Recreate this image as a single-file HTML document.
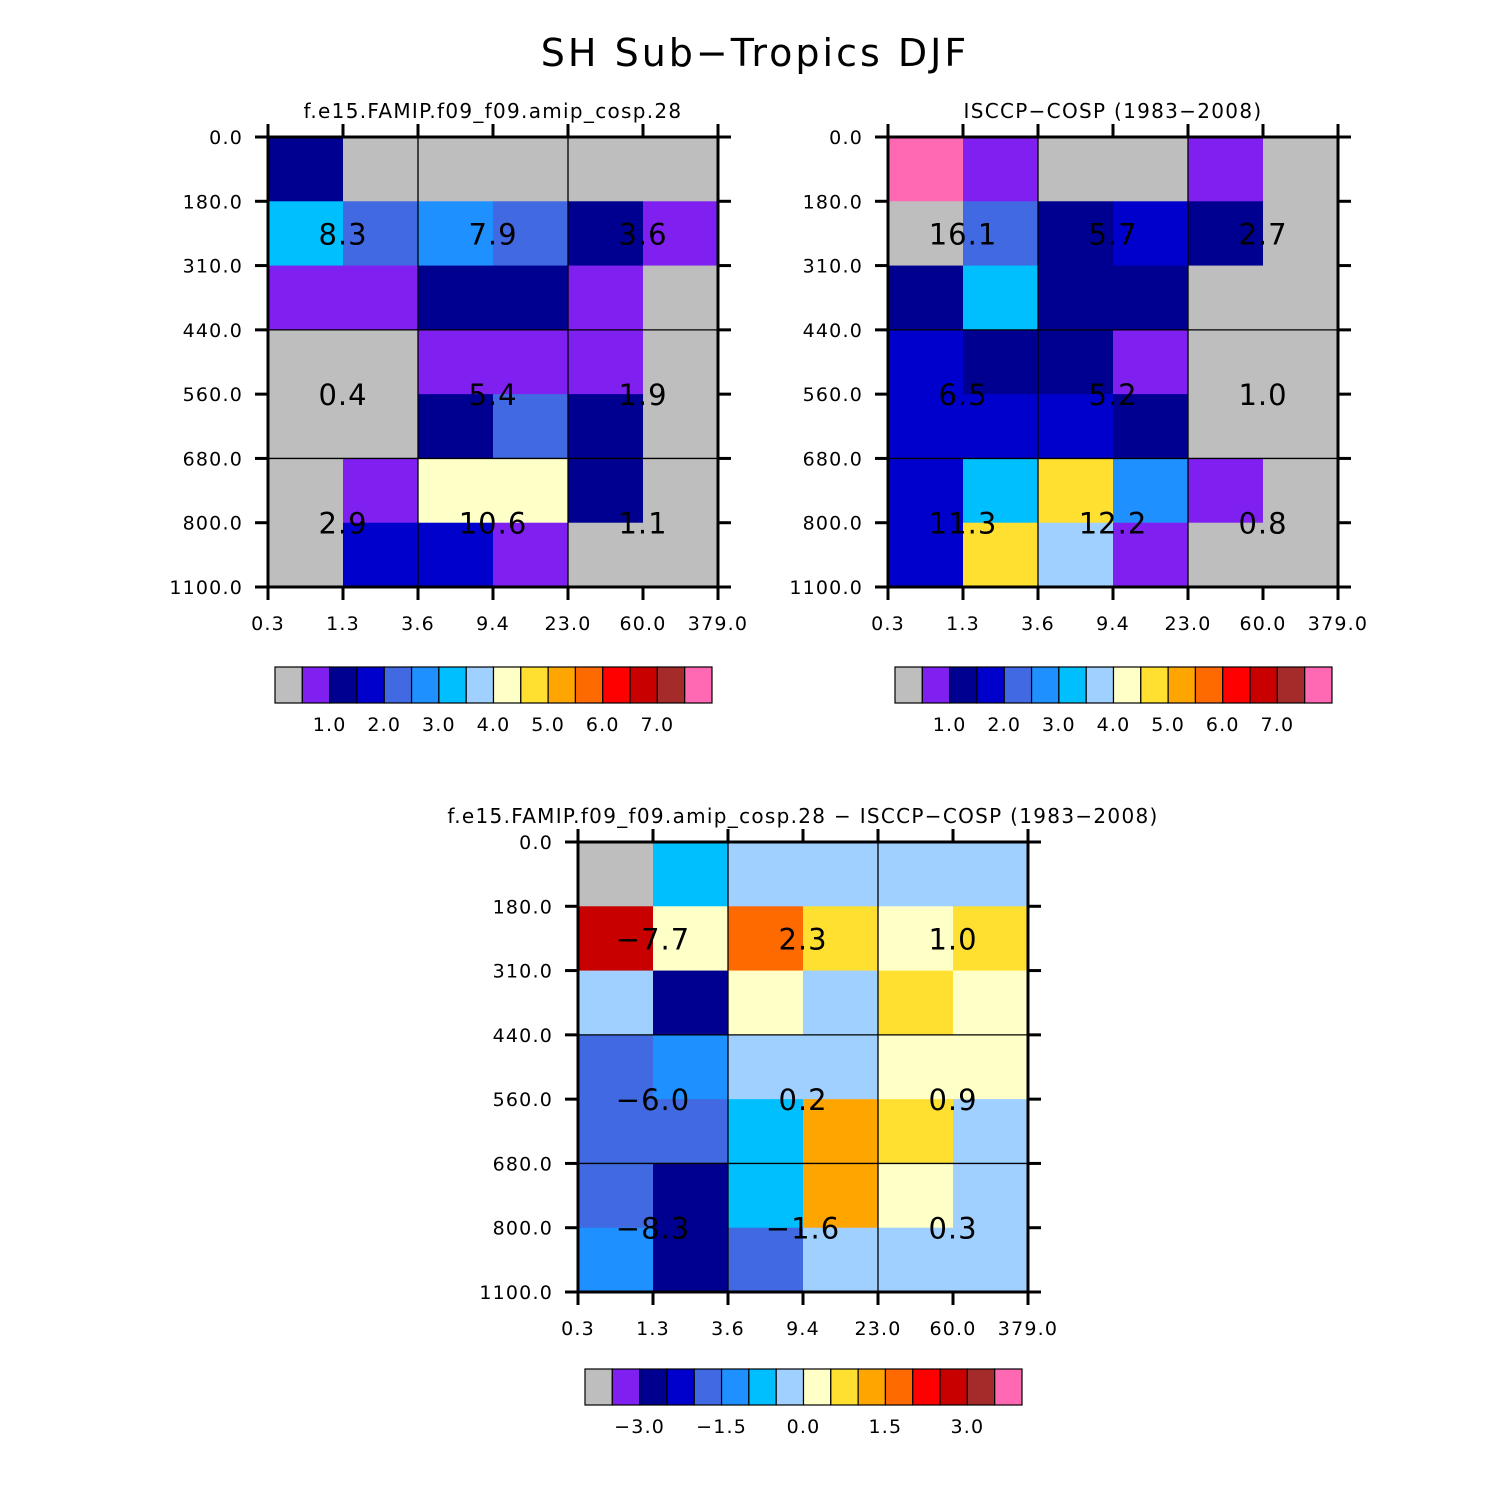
<!DOCTYPE html>
<html><head><meta charset="utf-8"><style>
body{margin:0;background:#fff}
svg{display:block;font-family:"DejaVu Sans","Liberation Sans",sans-serif}
</style></head><body>
<svg id="s" width="1510" height="1510" viewBox="0 0 1510 1510">
<text x="755" y="66" font-size="38" letter-spacing="3" text-anchor="middle">SH Sub−Tropics DJF</text>
</svg>
<script>
const xTicks=["0.3","1.3","3.6","9.4","23.0","60.0","379.0"];
const yTicks=["0.0","180.0","310.0","440.0","560.0","680.0","800.0","1100.0"];
const colors=["#BEBEBE","#8020F0","#000090","#0000CD","#4169E1","#1E90FF","#00BFFF","#A0D0FF","#FFFFC8","#FFE030","#FFA500","#FF6A00","#FF0000","#C80000","#A52A2A","#FF69B4"];
const modelVals=[
[1.2,0.2,0.2,0.2,0.2,0.2],
[3.2,2.2,2.7,2.2,1.2,0.7],
[0.7,0.7,1.2,1.2,0.7,0.2],
[0.2,0.2,0.7,0.7,0.7,0.2],
[0.2,0.2,1.2,2.2,1.2,0.2],
[0.2,0.7,4.2,4.2,1.2,0.2],
[0.2,1.7,1.7,0.7,0.2,0.2]];
const obsVals=[
[7.8,0.7,0.2,0.2,0.7,0.2],
[0.2,2.2,1.2,1.7,1.2,0.2],
[1.2,3.2,1.2,1.2,0.2,0.2],
[1.7,1.2,1.2,0.7,0.2,0.2],
[1.7,1.7,1.7,1.2,0.2,0.2],
[1.7,3.2,4.7,2.7,0.7,0.2],
[1.7,4.7,3.7,0.7,0.2,0.2]];
const diffVals=[
[-3.8,-0.7,-0.2,-0.2,-0.2,-0.2],
[2.7,0.2,1.7,0.7,0.2,0.7],
[-0.2,-2.7,0.2,-0.2,0.7,0.2],
[-1.7,-1.2,-0.2,-0.2,0.2,0.2],
[-1.7,-1.7,-0.7,1.2,0.7,-0.2],
[-1.7,-2.7,-0.7,1.2,0.2,-0.2],
[-1.2,-2.7,-1.7,-0.2,-0.2,-0.2]];
const modelLabels=["8.3","7.9","3.6","0.4","5.4","1.9","2.9","10.6","1.1"];
const obsLabels=["16.1","5.7","2.7","6.5","5.2","1.0","11.3","12.2","0.8"];
const diffLabels=["−7.7","2.3","1.0","−6.0","0.2","0.9","−8.3","−1.6","0.3"];
const absCbLabels=["1.0","2.0","3.0","4.0","5.0","6.0","7.0"];
const diffCbLabels=["−3.0","−1.5","0.0","1.5","3.0"];

const S=document.getElementById('s');const NS="http://www.w3.org/2000/svg";
function mk(t,a,p){const e=document.createElementNS(NS,t);for(const k in a)e.setAttribute(k,a[k]);(p||S).appendChild(e);return e;}
function absIdx(v){return Math.max(0,Math.min(15,Math.floor(v/0.5)));}
function diffIdx(v){return Math.max(0,Math.min(15,Math.floor(v/0.5)+8));}
function panel(x0,y0,title,vals,labels,idxf,name){
 const g=mk('g',{});
 
 
 const W=450,H=450,cw=W/6,rh=H/7;
 const xs=i=>x0+i*cw, ys=j=>y0+j*rh;
 vals.forEach((row,j)=>row.forEach((v,i)=>{
  const r=mk('rect',{x:xs(i),y:ys(j),width:cw+0.5,height:rh+0.5,fill:colors[idxf(v)]},g);
  
  
 }));
 [2,4].forEach(i=>mk('line',{x1:xs(i),x2:xs(i),y1:y0,y2:y0+H,stroke:'#000','stroke-width':1.3},g));
 [3,5].forEach(j=>mk('line',{x1:x0,x2:x0+W,y1:ys(j),y2:ys(j),stroke:'#000','stroke-width':1.3},g));
 mk('rect',{x:x0,y:y0,width:W,height:H,fill:'none',stroke:'#000','stroke-width':3},g);
 xTicks.forEach((t,i)=>{
  mk('line',{x1:xs(i),x2:xs(i),y1:y0-13,y2:y0,stroke:'#000','stroke-width':3},g);
  mk('line',{x1:xs(i),x2:xs(i),y1:y0+H,y2:y0+H+13,stroke:'#000','stroke-width':3},g);
  const tx=mk('text',{x:xs(i),y:y0+H+43,'font-size':19,'letter-spacing':1.2,'text-anchor':'middle'},g);tx.textContent=t;
  
  
 });
 yTicks.forEach((t,j)=>{
  mk('line',{x1:x0-13,x2:x0,y1:ys(j),y2:ys(j),stroke:'#000','stroke-width':3},g);
  mk('line',{x1:x0+W,x2:x0+W+13,y1:ys(j),y2:ys(j),stroke:'#000','stroke-width':3},g);
  const tx=mk('text',{x:x0-25,y:ys(j)+7,'font-size':19,'letter-spacing':1.2,'text-anchor':'end'},g);tx.textContent=t;
  
  
 });
 const rc=[ (ys(0)+ys(3))/2,(ys(3)+ys(5))/2,(ys(5)+ys(7))/2 ];
 const cc=[ (xs(0)+xs(2))/2,(xs(2)+xs(4))/2,(xs(4)+xs(6))/2 ];
 labels.forEach((l,k)=>{
  const tx=mk('text',{x:cc[k%3],y:rc[Math.floor(k/3)]+11,'font-size':29,'letter-spacing':1,'text-anchor':'middle'},g);tx.textContent=l;
  
  
 });
 const tt=mk('text',{x:x0+W/2,y:y0-19,'font-size':20,'letter-spacing':1.3,'text-anchor':'middle'},g);tt.textContent=title;
 
 
}
function colorbar(x0,y0,labels,firstBoundary,step,name){
 const g=mk('g',{});
 
 
 const bw=437/16;
 colors.forEach((c,k)=>{
  const r=mk('rect',{x:x0+k*bw,y:y0,width:bw,height:36,fill:c,stroke:'#000','stroke-width':1.2},g);
  
  
 });
 labels.forEach((l,k)=>{
  const tx=mk('text',{x:x0+(firstBoundary+k*step)*bw,y:y0+64,'font-size':19,'letter-spacing':1.2,'text-anchor':'middle'},g);tx.textContent=l;
  
  
 });
}
panel(268,137,"f.e15.FAMIP.f09_f09.amip_cosp.28",modelVals,modelLabels,absIdx,'model-panel');
panel(888,137,"ISCCP−COSP (1983−2008)",obsVals,obsLabels,absIdx,'obs-panel');
panel(578,842,"f.e15.FAMIP.f09_f09.amip_cosp.28 − ISCCP−COSP (1983−2008)",diffVals,diffLabels,diffIdx,'diff-panel');
colorbar(275,667,absCbLabels,2,2,'model-colorbar');
colorbar(895,667,absCbLabels,2,2,'obs-colorbar');
colorbar(585,1369,diffCbLabels,2,3,'diff-colorbar');
</script>
</body></html>
